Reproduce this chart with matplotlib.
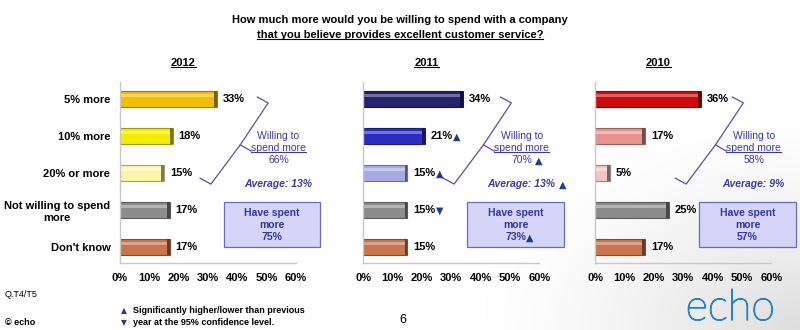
import numpy as np
import matplotlib
matplotlib.use("Agg")
import matplotlib.pyplot as plt
import matplotlib.patheffects as pe
from matplotlib.lines import Line2D
from matplotlib.patches import Rectangle

plt.rcParams['font.family'] = ['Liberation Sans', 'DejaVu Sans']

# ---- Data ----
categories = ["5% more", "10% more", "20% or more", "Not willing to spend\nmore", "Don't know"]
years = ["2012", "2011", "2010"]
values_2012 = [33, 18, 15, 17, 17]
values_2011 = [34, 21, 15, 15, 15]
values_2010 = [36, 17, 5, 25, 17]
sig_2011 = ["", "up", "up", "down", ""]     # vs previous year
willing = [66, 70, 58]
willing_sig = ["", "up", ""]
average = [13, 13, 9]
average_sig = ["", "up", ""]
spent_more = [75, 73, 57]
spent_sig = ["", "up", ""]
xticks = [0, 10, 20, 30, 40, 50, 60]

colors_2012 = ['#F2BE00', '#F4EC00', '#FAF6A6', '#8C8C8C', '#C8754C']
colors_2011 = ['#23236E', '#2C2CC2', '#A9A9E6', '#8C8C8C', '#C8754C']
colors_2010 = ['#CE0C0C', '#E99391', '#F2C6C6', '#8C8C8C', '#C8754C']

BLUE_TXT = '#3B3B9E'
TRI = '#1F3A8F'
TRI_SYM = {"up": "\u25B2", "down": "\u25BC"}


def darker(c, f=0.65):
    r, g, b = matplotlib.colors.to_rgb(c)
    return (r * f, g * f, b * f)


def lighter(c, f=0.35):
    r, g, b = matplotlib.colors.to_rgb(c)
    return (r + (1 - r) * f, g + (1 - g) * f, b + (1 - b) * f)


def add_tri(ax, artist, kind, gap=1.0, size=7):
    if not kind:
        return
    ax.annotate(TRI_SYM[kind], xy=(1, 0.45), xycoords=artist,
                xytext=(gap, 0), textcoords='offset points',
                ha='left', va='center', fontsize=size, color=TRI,
                family=['DejaVu Sans'], annotation_clip=False)


def draw_panel(ax, vals, cols, sigs, i):
    y = np.arange(len(vals))
    h = 0.43
    # main bar
    ax.barh(y, vals, height=h, color=cols,
            edgecolor=[darker(c) for c in cols], linewidth=0.8, zorder=2)
    # highlight stripe for a bit of 3D look
    ax.barh(y - h * 0.2, np.array(vals) - 1.0, height=h * 0.18, left=0.3,
            color=[lighter(c) for c in cols], linewidth=0, zorder=3)
    # dark end cap
    ax.barh(y, [0.9] * len(vals), left=np.array(vals) - 0.9, height=h,
            color=[darker(c, 0.5) for c in cols], linewidth=0, zorder=3)

    for yy, v, s in zip(y, vals, sigs):
        t = ax.text(v + 2, yy, f"{v}%", ha='left', va='center',
                    fontsize=8, fontweight='bold', zorder=4)
        add_tri(ax, t, s, gap=0.3)

    ax.set_xlim(0, 60)
    ax.set_ylim(4.43, -0.46)
    ax.set_xticks(xticks)
    ax.set_xticklabels([f"{x}%" for x in xticks], fontsize=8, fontweight='bold')
    ax.tick_params(axis='x', length=0, pad=7)
    ax.tick_params(axis='y', length=0, pad=7)
    for sp in ['top', 'right']:
        ax.spines[sp].set_visible(False)
    for sp in ['left', 'bottom']:
        ax.spines[sp].set_color('#C8C8C8')
        ax.spines[sp].set_linewidth(1.0)
    ax.set_yticks(y)
    if i == 0:
        ax.set_yticklabels(categories, fontsize=8, fontweight='bold',
                           multialignment='center')
    else:
        ax.set_yticklabels([])

    # year title
    ttl = ax.text(0.36, 1.105, years[i], transform=ax.transAxes, ha='center',
                  va='center', fontsize=8, fontweight='bold')

    # brace joining the "willing to spend more" bars
    bx = [46.8, 50.5, 41.0, 31.0, 27.3]
    by = [-0.05, 0.11, 1.24, 2.30, 2.14]
    ax.add_line(Line2D(bx, by, color='#5A4FA8', lw=0.9, clip_on=False))
    ax.add_line(Line2D([41.0, 44.7], [1.24, 1.41], color='#5A4FA8', lw=0.9,
                       clip_on=False))

    # willing to spend text block
    ax.text(54, 1.0, "Willing to", ha='center', va='center', fontsize=7.5,
            color=BLUE_TXT, clip_on=False)
    sm = ax.text(54, 1.32, "spend more", ha='center', va='center',
                 fontsize=7.5, color=BLUE_TXT, clip_on=False)
    w = ax.text(54, 1.65, f"{willing[i]}%", ha='center', va='center',
                fontsize=7.5, color=BLUE_TXT, clip_on=False)
    add_tri(ax, w, willing_sig[i], gap=2.5)
    a = ax.text(54, 2.3, f"Average: {average[i]}%", ha='center', va='center',
                fontsize=7.5, fontweight='bold', fontstyle='italic',
                color=BLUE_TXT, clip_on=False)
    add_tri(ax, a, average_sig[i], gap=2.5)

    # have spent more box
    ax.add_patch(Rectangle((35.5, 2.78), 32.8, 1.22, facecolor='#D5D5F7',
                           edgecolor='#6A6AB8', lw=0.9, clip_on=False, zorder=1))
    ax.text(51.9, 3.08, "Have spent", ha='center', va='center', fontsize=7.5,
            fontweight='bold', color='#3434A4', clip_on=False)
    ax.text(51.9, 3.41, "more", ha='center', va='center', fontsize=7.5,
            fontweight='bold', color='#3434A4', clip_on=False)
    sp_t = ax.text(51.9, 3.73, f"{spent_more[i]}%", ha='center', va='center',
                   fontsize=7.5, fontweight='bold', color='#3434A4',
                   clip_on=False)
    add_tri(ax, sp_t, spent_sig[i], gap=0.2)
    return [ttl, sm]


fig = plt.figure(figsize=(8, 3.3), dpi=100)

# soft grey backdrop in the bottom-right corner, fading out to white
bg = fig.add_axes([0.58, 0.0, 0.42, 0.62], zorder=-5)
gx, gy = np.meshgrid(np.linspace(0, 1, 200), np.linspace(0, 1, 120))
dist = np.sqrt((1 - gx) ** 2 + (gy * 0.9) ** 2)
shade = 1 - 0.13 * np.clip(1 - dist / 0.95, 0, 1) ** 1.3
bg.imshow(np.dstack([shade] * 3), origin='lower', aspect='auto',
          extent=[0, 1, 0, 1])
bg.axis('off')

panel_left = [0.15, 0.454, 0.744]
all_vals = [values_2012, values_2011, values_2010]
all_cols = [colors_2012, colors_2011, colors_2010]
all_sigs = [[""] * 5, sig_2011, [""] * 5]

to_underline = []
for i in range(3):
    ax = fig.add_axes([panel_left[i], 0.203, 0.22, 0.549])
    ax.patch.set_alpha(0)
    to_underline += draw_panel(ax, all_vals[i], all_cols[i], all_sigs[i], i)

# ---- Titles / footer ----
fig.text(0.5, 0.939, "How much more would you be willing to spend with a company",
         ha='center', va='center', fontsize=8, fontweight='bold')
t2 = fig.text(0.5, 0.894, "that you believe provides excellent customer service?",
              ha='center', va='center', fontsize=8, fontweight='bold')
to_underline.append(t2)

fig.text(0.006, 0.109, "Q.T4/T5", ha='left', va='center', fontsize=6.5)
fig.text(0.006, 0.024, "\u00a9 echo", ha='left', va='center', fontsize=6.5,
         fontweight='bold')
fig.text(0.151, 0.058, "\u25B2", ha='left', va='center', fontsize=5.5,
         color=TRI, family=['DejaVu Sans'])
fig.text(0.151, 0.024, "\u25BC", ha='left', va='center', fontsize=5.5,
         color=TRI, family=['DejaVu Sans'])
fig.text(0.166, 0.058, "Significantly higher/lower than previous", ha='left',
         va='center', fontsize=6.5, fontweight='bold')
fig.text(0.166, 0.024, "year at the 95% confidence level.", ha='left',
         va='center', fontsize=6.5, fontweight='bold')
fig.text(0.504, 0.030, "6", ha='center', va='center', fontsize=9)
fig.text(0.857, 0.03, "echo", ha='left', va='baseline', fontsize=31,
         color='#2584C0', family=['Lato', 'DejaVu Sans'], fontweight='light',
         path_effects=[pe.withStroke(linewidth=0.9, foreground='#2584C0')])

# underlines
fig.canvas.draw()
r = fig.canvas.get_renderer()
inv = fig.transFigure.inverted()
for t in to_underline:
    bb = t.get_window_extent(r)
    (x0, y0), (x1, _) = inv.transform([[bb.x0, bb.y0 + 1], [bb.x1, bb.y0 + 1]])
    fig.add_artist(Line2D([x0, x1], [y0, y0], transform=fig.transFigure,
                          color=t.get_color(), lw=0.8))

fig.savefig("out.png", dpi=100)
